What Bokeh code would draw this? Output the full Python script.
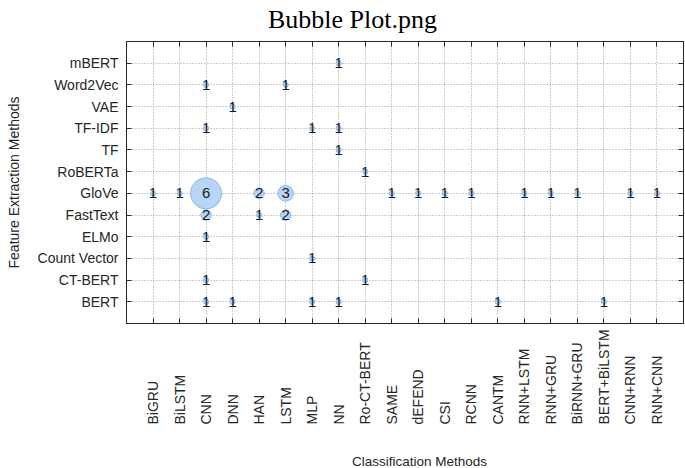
from math import pi
from bokeh.plotting import figure
from bokeh.layouts import column
from bokeh.models import ColumnDataSource, FixedTicker, LinearAxis, Range1d
from bokeh.core.properties import value
from bokeh.embed import file_html
from bokeh.resources import INLINE

# ---------------- data ----------------
classifiers = ["BiGRU", "BiLSTM", "CNN", "DNN", "HAN", "LSTM", "MLP", "NN",
               "Ro-CT-BERT", "SAME", "dEFEND", "CSI", "RCNN", "CANTM",
               "RNN+LSTM", "RNN+GRU", "BiRNN+GRU", "BERT+BiLSTM", "CNN+RNN",
               "RNN+CNN"]
features = ["BERT", "CT-BERT", "Count Vector", "ELMo", "FastText", "GloVe",
            "RoBERTa", "TF", "TF-IDF", "VAE", "Word2Vec", "mBERT"]

cell_feature = ["mBERT",
                "Word2Vec", "Word2Vec",
                "VAE",
                "TF-IDF", "TF-IDF", "TF-IDF",
                "TF",
                "RoBERTa",
                "GloVe", "GloVe", "GloVe", "GloVe", "GloVe", "GloVe", "GloVe",
                "GloVe", "GloVe", "GloVe", "GloVe", "GloVe", "GloVe", "GloVe",
                "FastText", "FastText", "FastText",
                "ELMo",
                "Count Vector",
                "CT-BERT", "CT-BERT",
                "BERT", "BERT", "BERT", "BERT", "BERT", "BERT"]
cell_classifier = ["NN",
                   "CNN", "LSTM",
                   "DNN",
                   "CNN", "MLP", "NN",
                   "NN",
                   "Ro-CT-BERT",
                   "BiGRU", "BiLSTM", "CNN", "HAN", "LSTM", "SAME", "dEFEND",
                   "CSI", "RCNN", "RNN+LSTM", "RNN+GRU", "BiRNN+GRU", "CNN+RNN",
                   "RNN+CNN",
                   "CNN", "HAN", "LSTM",
                   "CNN",
                   "MLP",
                   "CNN", "Ro-CT-BERT",
                   "CNN", "DNN", "MLP", "NN", "CANTM", "BERT+BiLSTM"]
cell_count = [1,
              1, 1,
              1,
              1, 1, 1,
              1,
              1,
              1, 1, 6, 2, 3, 1, 1, 1, 1, 1, 1, 1, 1, 1,
              2, 1, 2,
              1,
              1,
              1, 1,
              1, 1, 1, 1, 1, 1]

title_text = "Bubble Plot.png"
xlabel_text = "Classification Methods"
ylabel_text = "Feature Extraction Methods"

# ---------------- styling ----------------
AX = "#262626"
FONT = "Liberation Sans"
BUBBLE_PX_PER_UNIT = 5.2
W = 685
TOP_H = 39
MAIN_H = 287
LOW_H = 142
LEFT = 126
RIGHT = 2

nx = len(classifiers)
ny = len(features)
xticks = list(range(1, nx + 1))
yticks = list(range(1, ny + 1))

src = ColumnDataSource(dict(
    x=[classifiers.index(c) + 1 for c in cell_classifier],
    y=[features.index(f) + 1 for f in cell_feature],
    size=[c * BUBBLE_PX_PER_UNIT for c in cell_count],
    label=[str(c) for c in cell_count],
))

xr = Range1d(0, nx + 1)


def blank_panel(height):
    f = figure(width=W, height=height, output_backend="svg",
               toolbar_location=None, tools="", title=None, x_range=xr,
               y_range=Range1d(0, height), x_axis_location=None,
               y_axis_location=None, min_border_left=LEFT,
               min_border_right=RIGHT, min_border_top=0, min_border_bottom=0)
    f.outline_line_color = None
    f.xgrid.visible = False
    f.ygrid.visible = False
    f.background_fill_color = "white"
    f.border_fill_color = "white"
    return f


# ---------------- title panel ----------------
r = blank_panel(TOP_H)
t_src = ColumnDataSource(dict(x=[8.52], y=[TOP_H - 19], text=[title_text]))
r.text(x="x", y="y", text="text", source=t_src, text_align="center",
       text_baseline="alphabetic", text_font=value("Liberation Serif"),
       text_font_size="26px", text_color="black")

# ---------------- main plot ----------------
p = figure(width=W, height=MAIN_H, output_backend="svg", toolbar_location=None,
           title=None, tools="",
           x_range=xr, y_range=Range1d(0, ny + 1),
           min_border_left=LEFT, min_border_right=RIGHT,
           min_border_top=2, min_border_bottom=3)

p.background_fill_color = "white"
p.border_fill_color = "white"
p.outline_line_color = AX
p.outline_line_width = 1

xa = p.xaxis[0]
xa.ticker = FixedTicker(ticks=xticks)
xa.major_label_overrides = {t: "" for t in xticks}
xa.major_label_text_font_size = "0px"
xa.major_label_standoff = 0
xa.major_tick_in = 5
xa.major_tick_out = 0
xa.minor_tick_line_color = None
xa.axis_line_color = AX
xa.major_tick_line_color = AX

ya = p.yaxis[0]
ya.ticker = FixedTicker(ticks=yticks)
ya.major_label_overrides = {i + 1: f for i, f in enumerate(features)}
ya.major_label_text_font = FONT
ya.major_label_text_font_size = "14px"
ya.major_label_text_color = AX
ya.major_label_standoff = 8
ya.major_tick_in = 5
ya.major_tick_out = 0
ya.minor_tick_line_color = None
ya.axis_line_color = AX
ya.major_tick_line_color = AX
ya.axis_label = ylabel_text
ya.axis_label_text_font = FONT
ya.axis_label_text_font_size = "14px"
ya.axis_label_text_font_style = "normal"
ya.axis_label_text_color = AX
ya.axis_label_standoff = 13

top_ax = LinearAxis(ticker=FixedTicker(ticks=xticks),
                    major_label_overrides={t: "" for t in xticks},
                    major_label_text_font_size="0px", major_label_standoff=0,
                    major_tick_in=5, major_tick_out=0,
                    minor_tick_line_color=None, axis_line_color=AX,
                    major_tick_line_color=AX)
p.add_layout(top_ax, "above")
right_ax = LinearAxis(ticker=FixedTicker(ticks=yticks),
                      major_label_overrides={t: "" for t in yticks},
                      major_label_text_font_size="0px", major_label_standoff=0,
                      major_tick_in=5, major_tick_out=0,
                      minor_tick_line_color=None, axis_line_color=AX,
                      major_tick_line_color=AX)
p.add_layout(right_ax, "right")

p.xgrid.ticker = FixedTicker(ticks=xticks)
p.ygrid.ticker = FixedTicker(ticks=yticks)
for g in (p.xgrid[0], p.ygrid[0]):
    g.grid_line_color = "#9a9a9a"
    g.grid_line_dash = "1 2"
    g.grid_line_width = 1

p.scatter(x="x", y="y", size="size", source=src, marker="circle",
          fill_color="#b7d5f4", line_color="#8dbbe8", line_width=1)
p.text(x="x", y="y", text="label", source=src, text_align="center",
       text_baseline="middle", text_font=value(FONT), text_font_size="15px",
       text_color="#1a1a1a")

# ---------------- lower panel: rotated category labels + x title ----------------
q = blank_panel(LOW_H)
lab_src = ColumnDataSource(dict(x=xticks, y=[44] * nx, text=classifiers))
q.text(x="x", y="y", text="text", source=lab_src, angle=pi / 2,
       text_align="left", text_baseline="middle", text_font=value(FONT),
       text_font_size="14px", text_color=AX)
xt_src = ColumnDataSource(dict(x=[11.05], y=[7], text=[xlabel_text]))
q.text(x="x", y="y", text="text", source=xt_src, text_align="center",
       text_baseline="middle", text_font=value(FONT),
       text_font_size="13.5px", text_color=AX)

layout = column(r, p, q, spacing=0)
open("out.html", "w").write(file_html(layout, INLINE))
